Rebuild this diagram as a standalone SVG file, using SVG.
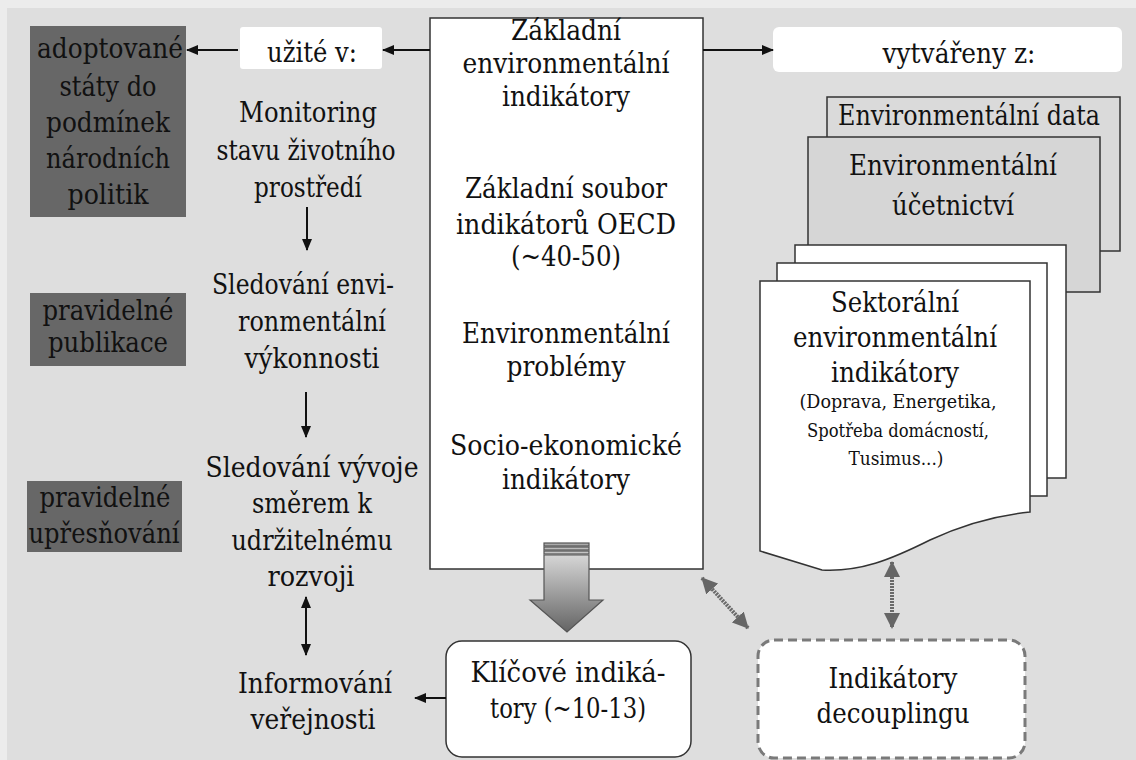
<svg xmlns="http://www.w3.org/2000/svg" width="1136" height="760" viewBox="0 0 1136 760">
<style>
text{font-family:'DejaVu Serif',serif;fill:#111;text-anchor:middle}
.a{font-size:28px}.b{font-size:27px}.s{font-size:19px}
.dark{fill:#676767}
.ln{stroke:#111;stroke-width:2;fill:none}
.pg{fill:#fff;stroke:#333;stroke-width:1.5}
.gdbl{stroke:#6a6a6a;stroke-width:4;fill:none;stroke-dasharray:2 1}
</style>
<defs>
<marker id="ah" viewBox="0 0 12 10" refX="11" refY="5" markerWidth="12" markerHeight="10" markerUnits="userSpaceOnUse" orient="auto-start-reverse"><path d="M0,0 L12,5 L0,10 z" fill="#111"/></marker>
<marker id="ahg" viewBox="0 0 16 16" refX="15" refY="8" markerWidth="16" markerHeight="16" markerUnits="userSpaceOnUse" orient="auto-start-reverse"><path d="M0,0 L16,8 L0,16 z" fill="#666"/></marker>
<linearGradient id="gArrow" x1="0" y1="555" x2="0" y2="632" gradientUnits="userSpaceOnUse"><stop offset="0" stop-color="#d6d6d6"/><stop offset="1" stop-color="#646464"/></linearGradient>
</defs>
<rect width="1136" height="760" fill="#ececec"/>
<rect x="7" y="8" width="1129" height="752" fill="#dedede"/>

<g id="adoptovane"><rect class="dark" x="30" y="26" width="156" height="191"/>
<text class="a" x="110" y="58" textLength="146" lengthAdjust="spacingAndGlyphs">adoptované</text>
<text class="a" x="108" y="96" textLength="97" lengthAdjust="spacingAndGlyphs">státy do</text>
<text class="a" x="108" y="132" textLength="124" lengthAdjust="spacingAndGlyphs">podmínek</text>
<text class="a" x="108" y="168" textLength="124" lengthAdjust="spacingAndGlyphs">národních</text>
<text class="a" x="108" y="204" textLength="81" lengthAdjust="spacingAndGlyphs">politik</text></g>
<g id="publikace"><rect class="dark" x="30" y="293" width="156" height="73"/>
<text class="a" x="108" y="320" textLength="131" lengthAdjust="spacingAndGlyphs">pravidelné</text>
<text class="a" x="108" y="352" textLength="120" lengthAdjust="spacingAndGlyphs">publikace</text></g>
<g id="upresnovani"><rect class="dark" x="27" y="481" width="155" height="71"/>
<text class="a" x="105" y="507" textLength="131" lengthAdjust="spacingAndGlyphs">pravidelné</text>
<text class="a" x="104" y="543" textLength="151" lengthAdjust="spacingAndGlyphs">upřesňování</text></g>

<g id="uzite"><rect x="240" y="27" width="142" height="42" rx="3" fill="#fff"/><text class="b" x="312" y="62" textLength="90" lengthAdjust="spacingAndGlyphs">užité v:</text></g>
<g id="monitoring">
<text class="b" x="308" y="122" textLength="138" lengthAdjust="spacingAndGlyphs">Monitoring</text>
<text class="b" x="306" y="160" textLength="179" lengthAdjust="spacingAndGlyphs">stavu životního</text>
<text class="b" x="308" y="197" textLength="108" lengthAdjust="spacingAndGlyphs">prostředí</text></g>
<g id="sledovani1">
<text class="b" x="303" y="294" textLength="182" lengthAdjust="spacingAndGlyphs">Sledování envi-</text>
<text class="b" x="312" y="331" textLength="148" lengthAdjust="spacingAndGlyphs">ronmentální</text>
<text class="b" x="312" y="368" textLength="135" lengthAdjust="spacingAndGlyphs">výkonnosti</text></g>
<g id="sledovani2">
<text class="b" x="312" y="477" textLength="213" lengthAdjust="spacingAndGlyphs">Sledování vývoje</text>
<text class="b" x="312" y="513" textLength="120" lengthAdjust="spacingAndGlyphs">směrem k</text>
<text class="b" x="312" y="550" textLength="161" lengthAdjust="spacingAndGlyphs">udržitelnému</text>
<text class="b" x="311" y="586" textLength="87" lengthAdjust="spacingAndGlyphs">rozvoji</text></g>
<g id="informovani">
<text class="b" x="315" y="693" textLength="154" lengthAdjust="spacingAndGlyphs">Informování</text>
<text class="b" x="313" y="729" textLength="125" lengthAdjust="spacingAndGlyphs">veřejnosti</text></g>

<g id="zakladni"><rect x="430" y="18" width="273" height="551" fill="#fff" stroke="#333" stroke-width="1.5"/>
<text class="a" x="566" y="40" textLength="110" lengthAdjust="spacingAndGlyphs">Základní</text>
<text class="a" x="566" y="73" textLength="207" lengthAdjust="spacingAndGlyphs">environmentální</text>
<text class="a" x="566" y="106" textLength="128" lengthAdjust="spacingAndGlyphs">indikátory</text>
<text class="a" x="566" y="198" textLength="202" lengthAdjust="spacingAndGlyphs">Základní soubor</text>
<text class="a" x="566" y="234" textLength="220" lengthAdjust="spacingAndGlyphs">indikátorů OECD</text>
<text class="a" x="566" y="266" textLength="110" lengthAdjust="spacingAndGlyphs">(~40-50)</text>
<text class="a" x="566" y="343" textLength="208" lengthAdjust="spacingAndGlyphs">Environmentální</text>
<text class="a" x="566" y="376" textLength="119" lengthAdjust="spacingAndGlyphs">problémy</text>
<text class="a" x="566" y="455" textLength="232" lengthAdjust="spacingAndGlyphs">Socio-ekonomické</text>
<text class="a" x="566" y="489" textLength="128" lengthAdjust="spacingAndGlyphs">indikátory</text></g>

<g id="klicove"><rect x="446" y="641" width="245" height="116" rx="16" fill="#fff" stroke="#333" stroke-width="1.5"/>
<text class="b" x="568" y="682" textLength="195" lengthAdjust="spacingAndGlyphs">Klíčové indiká-</text>
<text class="b" x="568" y="718" textLength="156" lengthAdjust="spacingAndGlyphs">tory (~10-13)</text></g>

<g id="vytvareny"><rect x="773" y="27" width="349" height="45" rx="6" fill="#fff"/><text class="a" x="959" y="63" textLength="153" lengthAdjust="spacingAndGlyphs">vytvářeny z:</text></g>
<g id="envdata"><rect x="827" y="97" width="293" height="154" fill="#dadada" stroke="#333" stroke-width="1.5"/><text class="a" x="969" y="125" textLength="262" lengthAdjust="spacingAndGlyphs">Environmentální data</text></g>
<g id="envucet"><rect x="808" y="137" width="292" height="155" fill="#d6d6d6" stroke="#333" stroke-width="1.5"/>
<text class="a" x="953" y="175" textLength="208" lengthAdjust="spacingAndGlyphs">Environmentální</text>
<text class="a" x="953" y="215" textLength="122" lengthAdjust="spacingAndGlyphs">účetnictví</text></g>
<g id="sektoralni">
<rect class="pg" x="795" y="245" width="271" height="233"/>
<rect class="pg" x="777" y="263" width="270" height="233"/>
<path class="pg" d="M760,281 H1030 V512 C990,516 960,526 930,540 C890,560 860,572 822,570 L760,551 Z"/>
<text class="a" x="895" y="312" textLength="128" lengthAdjust="spacingAndGlyphs">Sektorální</text>
<text class="a" x="895" y="347" textLength="204" lengthAdjust="spacingAndGlyphs">environmentální</text>
<text class="a" x="895" y="382" textLength="128" lengthAdjust="spacingAndGlyphs">indikátory</text>
<text class="s" x="898" y="408" textLength="197" lengthAdjust="spacingAndGlyphs">(Doprava, Energetika,</text>
<text class="s" x="898" y="437" textLength="182" lengthAdjust="spacingAndGlyphs">Spotřeba domácností,</text>
<text class="s" x="896" y="465" textLength="95" lengthAdjust="spacingAndGlyphs">Tusimus...)</text></g>

<g id="decoupling"><rect x="758" y="640" width="267" height="118" rx="16" fill="#fff" stroke="#7a7a7a" stroke-width="3" stroke-dasharray="9 5"/>
<text class="a" x="893" y="688" textLength="129" lengthAdjust="spacingAndGlyphs">Indikátory</text>
<text class="a" x="893" y="723" textLength="153" lengthAdjust="spacingAndGlyphs">decouplingu</text></g>

<g id="connectors">
<line class="ln" x1="430" y1="50" x2="383" y2="50" marker-end="url(#ah)"/>
<line class="ln" x1="238" y1="50" x2="187" y2="50" marker-end="url(#ah)"/>
<line class="ln" x1="703" y1="50" x2="773" y2="50" marker-end="url(#ah)"/>
<line class="ln" x1="307" y1="207" x2="307" y2="250" marker-end="url(#ah)"/>
<line class="ln" x1="306" y1="392" x2="306" y2="437" marker-end="url(#ah)"/>
<line class="ln" x1="306" y1="597" x2="306" y2="655" marker-start="url(#ah)" marker-end="url(#ah)"/>
<line class="ln" x1="446" y1="698" x2="415" y2="698" marker-end="url(#ah)"/>
<line class="gdbl" x1="702" y1="578" x2="748" y2="628" marker-start="url(#ahg)" marker-end="url(#ahg)"/>
<line class="gdbl" x1="892" y1="562" x2="892" y2="628" marker-start="url(#ahg)" marker-end="url(#ahg)"/>
<g id="bigArrow" stroke="#555" stroke-width="1.2">
<rect x="544" y="543" width="45" height="3" fill="#aaa"/>
<rect x="544" y="547" width="45" height="3" fill="#bbb"/>
<rect x="544" y="551" width="45" height="3" fill="#c4c4c4"/>
<path d="M544,555 H589 V600 H603 L567,632 L530,600 H544 Z" fill="url(#gArrow)"/>
</g>
</g>
</svg>
